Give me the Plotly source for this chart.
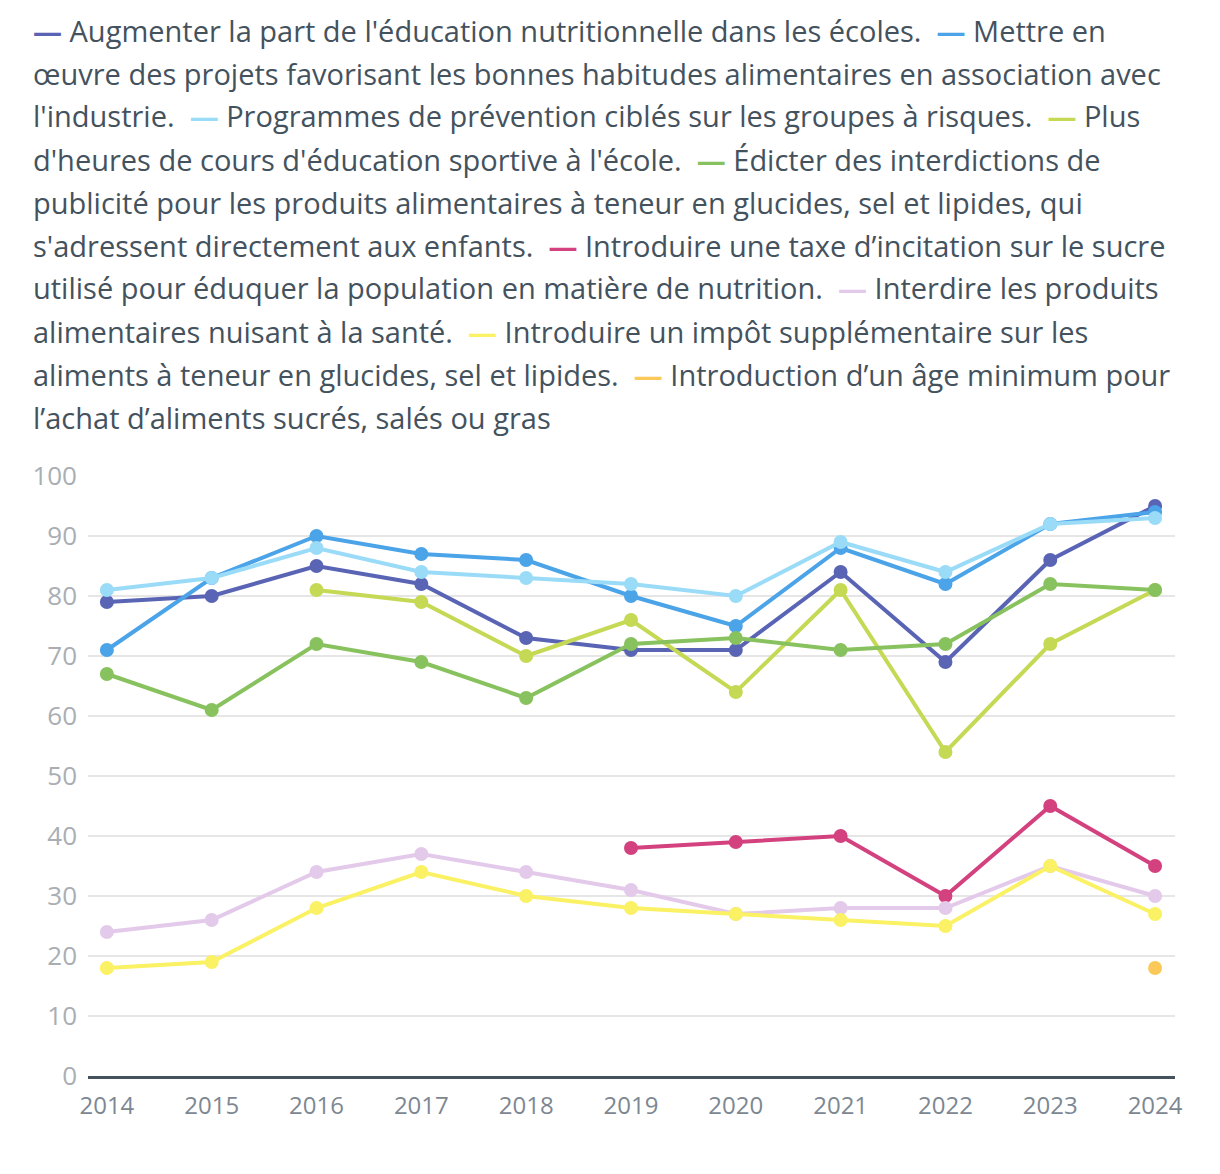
import plotly.graph_objects as go

years = [2014, 2015, 2016, 2017, 2018, 2019, 2020, 2021, 2022, 2023, 2024]

names = [
    "Augmenter la part de l'éducation nutritionnelle dans les écoles.",
    "Mettre en œuvre des projets favorisant les bonnes habitudes alimentaires en association avec l'industrie.",
    "Programmes de prévention ciblés sur les groupes à risques.",
    "Plus d'heures de cours d'éducation sportive à l'école.",
    "Édicter des interdictions de publicité pour les produits alimentaires à teneur en glucides, sel et lipides, qui s'adressent directement aux enfants.",
    "Introduire une taxe d’incitation sur le sucre utilisé pour éduquer la population en matière de nutrition.",
    "Interdire les produits alimentaires nuisant à la santé.",
    "Introduire un impôt supplémentaire sur les aliments à teneur en glucides, sel et lipides.",
    "Introduction d’un âge minimum pour l’achat d’aliments sucrés, salés ou gras",
]

s_education = [79, 80, 85, 82, 73, 71, 71, 84, 69, 86, 95]
s_industrie = [71, 83, 90, 87, 86, 80, 75, 88, 82, 92, 94]
s_prevention = [81, 83, 88, 84, 83, 82, 80, 89, 84, 92, 93]
s_sport = [None, None, 81, 79, 70, 76, 64, 81, 54, 72, 81]
s_publicite = [67, 61, 72, 69, 63, 72, 73, 71, 72, 82, 81]
s_taxe = [None, None, None, None, None, 38, 39, 40, 30, 45, 35]
s_interdire = [24, 26, 34, 37, 34, 31, 27, 28, 28, 35, 30]
s_impot = [18, 19, 28, 34, 30, 28, 27, 26, 25, 35, 27]
s_age = [None, None, None, None, None, None, None, None, None, None, 18]

series = [s_education, s_industrie, s_prevention, s_sport, s_publicite,
          s_taxe, s_interdire, s_impot, s_age]
colors = ["#5A64B5", "#4BA3E8", "#9ADBF8", "#C5D955", "#88C25E",
          "#D3417F", "#E4CAEA", "#FAF164", "#FBC95A"]

y_ticks = [0, 10, 20, 30, 40, 50, 60, 70, 80, 90, 100]

# words that begin a new legend line
legend_breaks = ["œuvre", "l'industrie.", "d'heures", "publicité", "s'adressent",
                 "utilisé", "alimentaires", "aliments", "l’achat"]

FONT = "Open Sans"
TEXT_COLOR = "#44525E"

fig = go.Figure()
for name, vals, col in zip(names, series, colors):
    fig.add_trace(go.Scatter(
        x=years, y=vals, name=name, mode="lines+markers",
        line=dict(color=col, width=4),
        marker=dict(color=col, size=14),
        connectgaps=False, showlegend=False,
    ))

# Build the wrapped legend as lines of text
lines = [[]]
bi = 0
for idx, (name, col) in enumerate(zip(names, colors)):
    sep = "\u00a0\u00a0" if idx > 0 else ""
    marker = f"{sep}<span style='color:{col}'><b>—</b></span>\u00a0"
    lines[-1].append(marker)
    first = True
    for w in name.split(" "):
        if bi < len(legend_breaks) and w == legend_breaks[bi]:
            bi += 1
            lines.append([w])
        else:
            lines[-1].append(w if first else " " + w)
        first = False
text_lines = ["".join(parts) for parts in lines]

plot_top = 476
plot_h = 600
for i, ln in enumerate(text_lines):
    ypix = 30 + 43 * i
    fig.add_annotation(
        text=ln, xref="paper", yref="paper",
        x=-0.0525, y=1 + (plot_top - ypix) / plot_h,
        xanchor="left", yanchor="middle", showarrow=False, align="left",
        font=dict(family=FONT, size=29, color=TEXT_COLOR),
    )

fig.update_layout(
    width=1220, height=1174,
    margin=dict(l=88, r=45, t=plot_top, b=1174 - plot_top - plot_h),
    paper_bgcolor="white", plot_bgcolor="white",
    hovermode=False,
    font=dict(family=FONT),
)
fig.update_xaxes(
    range=[2013.82, 2024.19], tickvals=years, ticktext=[str(y) for y in years],
    showgrid=False, showline=True, linecolor="#44525E", linewidth=2.5,
    ticks="", tickfont=dict(family=FONT, size=24, color="#7D8792"),
    zeroline=False, ticklabelstandoff=6,
)
fig.update_yaxes(
    range=[0, 100], tickvals=y_ticks, showgrid=True, gridcolor="#E6E6E6",
    gridwidth=2, zeroline=False, showline=False, ticks="",
    tickfont=dict(family=FONT, size=26, color="#A9AEB3"), ticklabelstandoff=10,
)

fig.write_html("out.html")
